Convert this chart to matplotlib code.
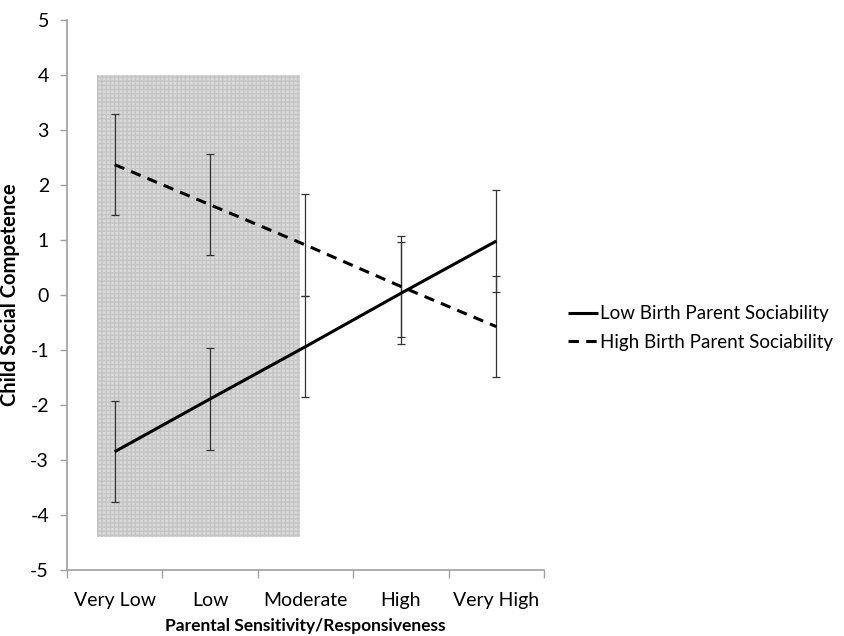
import numpy as np
import matplotlib.pyplot as plt
from matplotlib.patches import Rectangle

# categories and values
categories = ['Very Low', 'Low', 'Moderate', 'High', 'Very High']
low_sociability = [-2.85, -1.89, -0.94, 0.03, 0.98]
high_sociability = [2.37, 1.64, 0.91, 0.155, -0.575]
low_err = [0.92, 0.92, 0.92, 0.93, 0.92]
high_err = [0.92, 0.92, 0.92, 0.925, 0.915]

plt.rcParams['font.family'] = ['Lato', 'DejaVu Sans']
plt.rcParams['axes.unicode_minus'] = False

fig = plt.figure(figsize=(8.44, 6.36), dpi=100)
ax = fig.add_axes([0.0794, 0.1038, 0.5651, 0.8648])

x = np.arange(len(categories))

# shaded region
ax.add_patch(Rectangle((-0.19, -4.4), 2.13, 8.4, facecolor='#dadada',
                       edgecolor='#c4c4c4', hatch='++++', linewidth=0, zorder=1))

ax.errorbar(x, low_sociability, yerr=low_err, fmt='none', ecolor='#333333',
            elinewidth=0.9, capsize=3, capthick=0.9, zorder=2)
ax.errorbar(x, high_sociability, yerr=high_err, fmt='none', ecolor='#333333',
            elinewidth=0.9, capsize=3, capthick=0.9, zorder=2)

ax.plot(x, low_sociability, color='black', lw=2.2, solid_capstyle='butt',
        label='Low Birth Parent Sociability', zorder=3)
ax.plot(x, high_sociability, color='black', lw=2.2, linestyle=(0, (3.4, 2.4)),
        label='High Birth Parent Sociability', zorder=3)

ax.set_xlim(-0.5, 4.5)
ax.set_ylim(-5, 5)
ax.set_yticks(range(-5, 6))
ax.set_xticks(x)
ax.set_xticklabels(categories)
ax.set_xticks(np.arange(-0.5, 5, 1), minor=True)
ax.tick_params(axis='x', which='major', length=0, labelsize=14, pad=16)
ax.tick_params(axis='x', which='minor', length=6, color='#a0a0a0', width=1)
ax.tick_params(axis='y', length=5, color='#a0a0a0', width=1, labelsize=14, pad=8)

for s in ['top', 'right']:
    ax.spines[s].set_visible(False)
for s in ['left', 'bottom']:
    ax.spines[s].set_color('#a0a0a0')
    ax.spines[s].set_linewidth(1.2)

ax.set_xlabel('Parental Sensitivity/Responsiveness', fontsize=12.5,
              fontweight='bold', labelpad=6)
ax.set_ylabel('Child Social Competence', fontsize=14.5, fontweight='bold')
ax.yaxis.set_label_coords(-0.098, 0.5)

ax.legend(loc='center left', bbox_to_anchor=(1.035, 0.44), frameon=False,
          fontsize=13.5, handlelength=1.6, handletextpad=0.1, labelspacing=0.6,
          borderaxespad=0)

fig.savefig('out.png', dpi=100)
